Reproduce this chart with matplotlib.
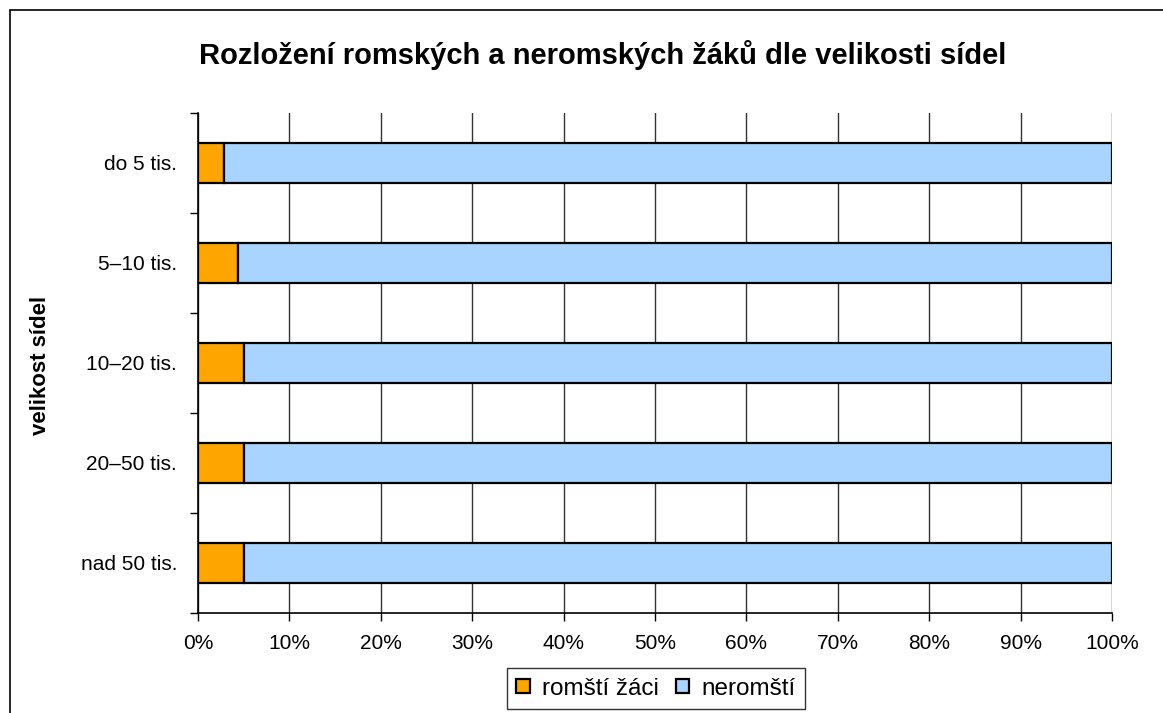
import matplotlib.pyplot as plt
from matplotlib.patches import Rectangle
from matplotlib.ticker import PercentFormatter, FixedLocator

plt.rcParams['font.family'] = ['Liberation Sans', 'DejaVu Sans']

categories = ['do 5 tis.', '5–10 tis.', '10–20 tis.', '20–50 tis.', 'nad 50 tis.']
romsti = [2.8, 4.4, 5.0, 5.0, 5.0]
neromsti = [100 - v for v in romsti]

fig = plt.figure(figsize=(11.63, 7.13), dpi=100)
W, H = 1163, 713
ax = fig.add_axes([198 / W, 1 - 613 / H, (1112 - 198) / W, 500 / H])

# outer chart frame (runs past the right and bottom edges)
fig.patches.append(Rectangle((10 / W, -0.1), 1.2, 1 - 10 / H + 0.1, transform=fig.transFigure,
                             fill=False, edgecolor='black', linewidth=1.2))

y = list(range(len(categories)))
ax.barh(y, romsti, height=0.4, color='#FFA500', edgecolor='black', linewidth=1.6, label='romští žáci')
ax.barh(y, neromsti, left=romsti, height=0.4, color='#A8D4FF', edgecolor='black', linewidth=1.6,
        label='neromští')

ax.set_xlim(0, 100)
ax.set_ylim(4.5, -0.5)
ax.set_xticks(range(0, 101, 10))
ax.xaxis.set_major_formatter(PercentFormatter(decimals=0))
ax.set_yticks(y)
ax.set_yticklabels(categories)
ax.yaxis.set_minor_locator(FixedLocator([-0.5, 0.5, 1.5, 2.5, 3.5, 4.5]))
ax.tick_params(axis='y', which='major', length=0, pad=15, labelsize=15)
ax.tick_params(axis='y', which='minor', length=6, width=1, direction='out')
ax.tick_params(axis='x', length=6, width=1, direction='out', labelsize=15, pad=9)
ax.grid(axis='x', color='#333333', linewidth=1)
ax.set_axisbelow(True)
for s in ['top', 'right']:
    ax.spines[s].set_visible(False)
for s in ['left', 'bottom']:
    ax.spines[s].set_linewidth(1.2)

fig.text(41 / W, 1 - 365 / H, 'velikost sídel', rotation=90, ha='center', va='center',
         fontsize=16, fontweight='bold')
fig.text(603 / W, 1 - 55 / H, 'Rozložení romských a neromských žáků dle velikosti sídel',
         ha='center', va='center', fontsize=21, fontweight='bold')

leg = fig.legend(loc='upper center', bbox_to_anchor=(656 / W, 1 - 668 / H), ncol=2, fontsize=17.5,
                 frameon=True, fancybox=False, edgecolor='black', handlelength=0.55, handleheight=0.55,
                 handletextpad=0.5, columnspacing=0.7, borderpad=0.4, borderaxespad=0)
leg.get_frame().set_linewidth(1)

fig.savefig('out.png', dpi=100)
